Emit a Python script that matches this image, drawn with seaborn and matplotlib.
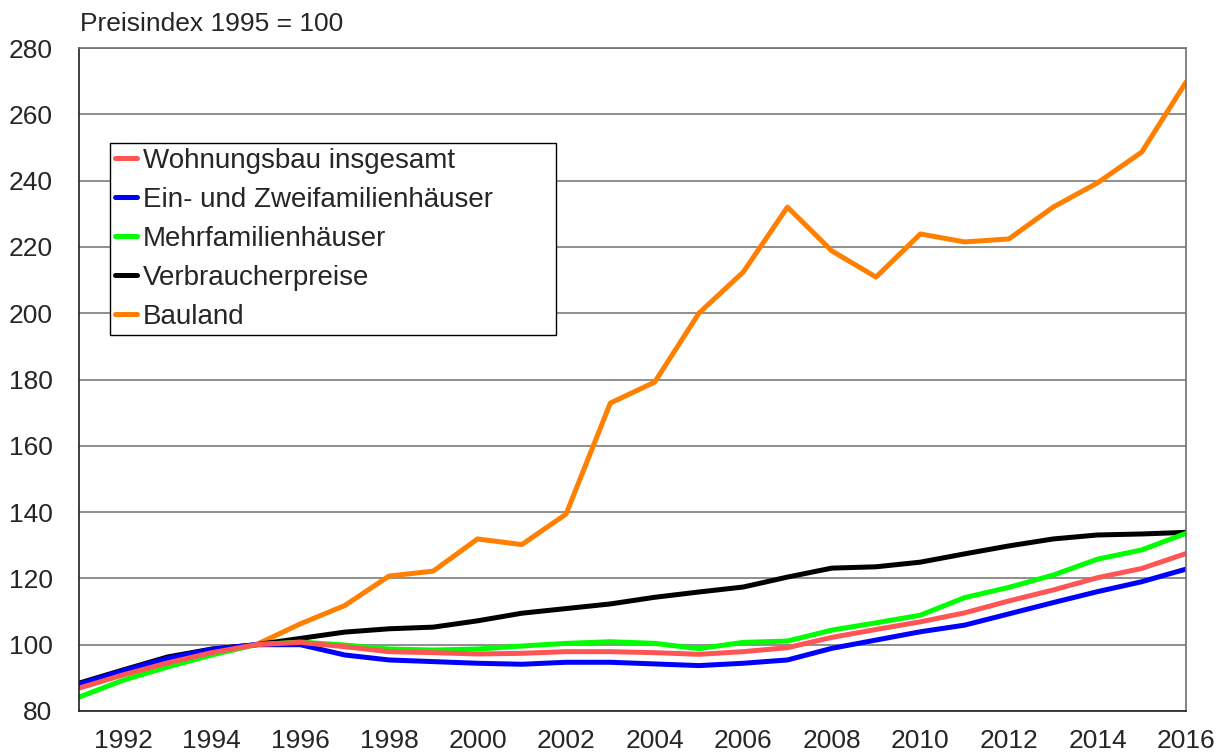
import numpy as np
import pandas as pd
import matplotlib
matplotlib.use("Agg")
import matplotlib.pyplot as plt
import seaborn as sns

# Jahre und Preisindizes (1995 = 100)
years = list(range(1991, 2017))

wohnungsbau = [86.9, 90.9, 94.5, 97.6, 100.0, 100.7, 99.4, 97.9, 97.6, 97.2,
               97.4, 97.9, 97.9, 97.6, 97.1, 97.9, 99.1, 102.2, 104.6, 106.9,
               109.6, 113.2, 116.5, 120.2, 123.0, 127.5]
ein_zwei = [88.1, 92.2, 95.9, 98.6, 100.0, 100.0, 96.9, 95.4, 94.9, 94.4,
            94.1, 94.7, 94.7, 94.2, 93.7, 94.4, 95.4, 98.9, 101.4, 103.9,
            105.9, 109.3, 112.7, 116.0, 119.0, 122.8]
mehrfamilien = [84.2, 89.3, 93.3, 96.9, 100.0, 100.8, 99.9, 98.7, 98.4, 98.7,
                99.6, 100.4, 100.9, 100.4, 98.8, 100.7, 101.1, 104.4, 106.6, 108.9,
                114.2, 117.3, 121.0, 125.8, 128.6, 133.6]
verbraucher = [88.4, 92.4, 96.3, 98.7, 100.0, 101.9, 103.8, 104.8, 105.3, 107.2,
               109.5, 110.9, 112.3, 114.3, 115.9, 117.4, 120.4, 123.1, 123.5, 124.9,
               127.4, 129.8, 131.9, 133.1, 133.4, 133.9]
bauland = [np.nan, np.nan, np.nan, np.nan, 100.0, 106.3, 111.8, 120.7, 122.2, 131.9,
           130.2, 139.4, 172.9, 179.2, 200.0, 212.4, 232.0, 218.8, 210.9, 223.9,
           221.5, 222.4, 232.0, 239.3, 248.6, 269.7]

labels = ["Wohnungsbau insgesamt", "Ein- und Zweifamilienhäuser",
          "Mehrfamilienhäuser", "Verbraucherpreise", "Bauland"]
series = [wohnungsbau, ein_zwei, mehrfamilien, verbraucher, bauland]
colors = ["#FF5555", "#0000FF", "#00FF00", "#000000", "#FF8000"]

sns.set_style("white")
plt.rcParams['font.family'] = ['Liberation Sans', 'DejaVu Sans']

fig = plt.figure(figsize=(12.22, 7.53), dpi=100)
ax = fig.add_axes([79 / 1222, 42 / 753, 1107 / 1222, 663 / 753])

# draw in reverse order so that the red line is on top
for lab, vals, col in reversed(list(zip(labels, series, colors))):
    df = pd.DataFrame({"Jahr": years, "Index": vals})
    sns.lineplot(data=df, x="Jahr", y="Index", color=col, linewidth=3.6,
                 ax=ax, label=lab)

h, l = ax.get_legend_handles_labels()
lookup = dict(zip(l, h))
leg = ax.legend([lookup[k] for k in labels], labels, loc="upper left",
                bbox_to_anchor=(0.028, 0.80, 0.403, 0.057), mode="expand",
                borderaxespad=0,
                fontsize=20, frameon=True, fancybox=False, framealpha=1,
                edgecolor="black", handlelength=0.8, handletextpad=0.2,
                labelspacing=0.47, borderpad=0.18)
leg.get_frame().set_linewidth(1.0)

ax.set_xlim(1991, 2016)
ax.set_ylim(80, 280)
ax.set_xticks(range(1992, 2017, 2))
ax.set_yticks(range(80, 281, 20))
ax.tick_params(axis="both", length=0, labelsize=19)
ax.tick_params(axis="x", pad=13)
ax.tick_params(axis="y", pad=19)
ax.yaxis.grid(True, color="#707070", linewidth=1.1)
ax.set_axisbelow(True)
ax.set_xlabel("")
ax.set_ylabel("")

for side in ["left", "bottom"]:
    ax.spines[side].set_color("#202020")
    ax.spines[side].set_linewidth(1.2)
for side in ["top", "right"]:
    ax.spines[side].set_color("#707070")
    ax.spines[side].set_linewidth(1.2)

fig.text(80 / 1222, 1 - 24 / 753, "Preisindex 1995 = 100", fontsize=19,
         ha="left", va="center")

fig.savefig("out.png", dpi=100)
